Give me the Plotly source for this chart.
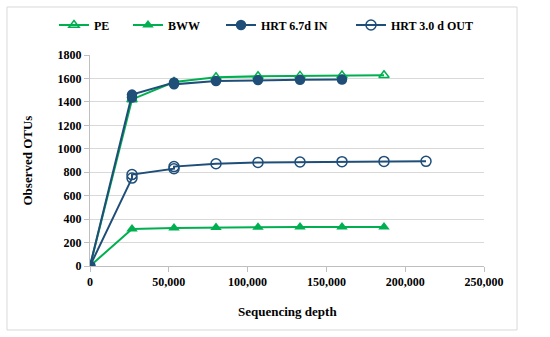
import plotly.graph_objects as go

# Series values (duplicate points at same depth represent overlapping replicates)
pe_x = [0, 26650, 53300, 79950, 106600, 133250, 159900, 186550]
pe_y = [0, 1421, 1570, 1610, 1618, 1622, 1625, 1627]

bww_x = [0, 26650, 53300, 79950, 106600, 133250, 159900, 186550]
bww_y = [0, 315, 324, 329, 331, 332, 333, 333]

hrt67_x = [0, 26650, 26650, 53300, 53300, 79950, 106600, 133250, 159900]
hrt67_y = [0, 1438, 1462, 1565, 1550, 1578, 1586, 1588, 1590]

hrt30_x = [0, 26650, 26650, 53300, 53300, 79950, 106600, 133250, 159900, 186550, 213200]
hrt30_y = [0, 750, 780, 830, 848, 872, 883, 887, 890, 892, 893]

x_ticks = [0, 50000, 100000, 150000, 200000, 250000]
x_ticklabels = ["0", "50,000", "100,000", "150,000", "200,000", "250,000"]
y_ticks = [0, 200, 400, 600, 800, 1000, 1200, 1400, 1600, 1800]

GREEN = "#00B050"
BLUE = "#1F4E79"
FONT = "Liberation Serif"

fig = go.Figure()
fig.add_trace(go.Scatter(x=pe_x, y=pe_y, name="PE", mode="lines+markers", legend="legend",
                         line=dict(color=GREEN, width=2),
                         marker=dict(symbol="triangle-up-open", size=9, color=GREEN,
                                     line=dict(width=1.5, color=GREEN))))
fig.add_trace(go.Scatter(x=bww_x, y=bww_y, name="BWW", mode="lines+markers", legend="legend2",
                         line=dict(color=GREEN, width=2),
                         marker=dict(symbol="triangle-up", size=10, color=GREEN)))
fig.add_trace(go.Scatter(x=hrt67_x, y=hrt67_y, name="HRT 6.7d IN", mode="lines+markers", legend="legend3",
                         line=dict(color=BLUE, width=2),
                         marker=dict(symbol="circle", size=10.5, color=BLUE)))
fig.add_trace(go.Scatter(x=hrt30_x, y=hrt30_y, name="HRT 3.0 d OUT", mode="lines+markers", legend="legend4",
                         line=dict(color=BLUE, width=2),
                         marker=dict(symbol="circle-open", size=10, color=BLUE,
                                     line=dict(width=1.5, color=BLUE))))

leg_font = dict(family=FONT, size=12, color="#000000", weight="bold")
def leg(x):
    return dict(orientation="h", x=x, xanchor="left", y=1.142, yanchor="middle",
                font=leg_font, bgcolor="rgba(0,0,0,0)")

fig.update_layout(
    width=550, height=337,
    margin=dict(l=90, r=66, t=55, b=71, autoexpand=False),
    paper_bgcolor="white", plot_bgcolor="white",
    font=dict(family=FONT, size=12, color="#000000"),
    showlegend=True,
    legend=leg(-0.0914), legend2=leg(0.0964), legend3=leg(0.3325), legend4=leg(0.6624),
    xaxis=dict(range=[0, 250000], tickvals=x_ticks, ticktext=x_ticklabels,
               showgrid=False, zeroline=False, showline=True, linecolor="#BFBFBF",
               linewidth=1, ticks="outside", ticklen=5, tickcolor="#BFBFBF",
               automargin=False,
               tickfont=dict(family=FONT, size=12, weight="bold")),
    yaxis=dict(range=[0, 1800], tickvals=y_ticks, showgrid=True, gridcolor="#D9D9D9",
               gridwidth=1, zeroline=False, showline=True, linecolor="#BFBFBF",
               linewidth=1, ticks="outside", ticklen=5, tickcolor="#BFBFBF",
               automargin=False,
               tickfont=dict(family=FONT, size=12, weight="bold")),
    annotations=[
        dict(text="<b>Sequencing depth</b>", xref="paper", yref="paper",
             x=0.5, y=(266 - 311) / 211, xanchor="center", yanchor="middle",
             showarrow=False, font=dict(family=FONT, size=13, color="#000000")),
        dict(text="<b>Observed OTUs</b>", xref="paper", yref="paper",
             x=(27 - 90) / 394, y=0.5, xanchor="center", yanchor="middle", textangle=-90,
             showarrow=False, font=dict(family=FONT, size=13, color="#000000")),
    ],
    shapes=[dict(type="rect", xref="paper", yref="paper",
                 x0=-0.2107, x1=1.0838, y0=-0.3033, y1=1.2275,
                 line=dict(color="#D9D9D9", width=1), fillcolor="rgba(0,0,0,0)",
                 layer="below")],
)

fig.write_html("out.html", config={"displayModeBar": False},
               post_script="document.body.style.margin='0';")
